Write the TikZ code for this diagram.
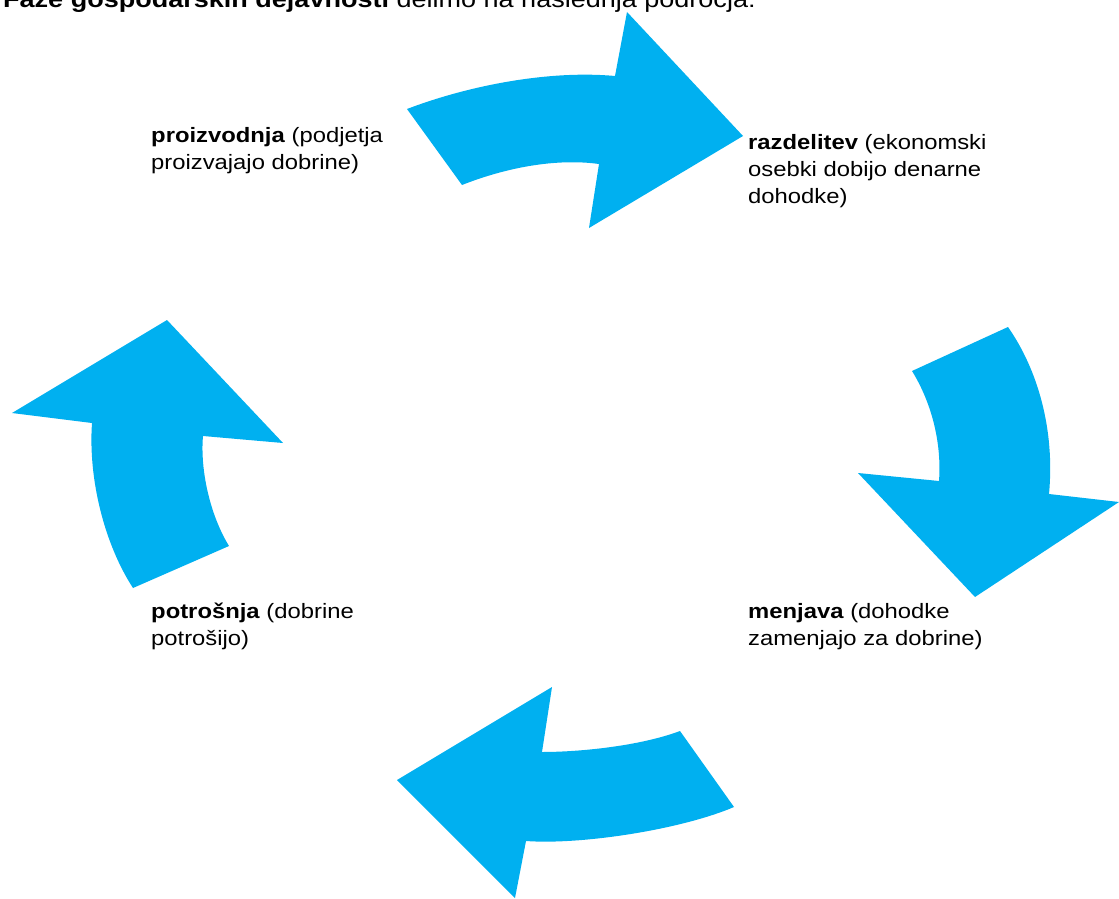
\documentclass[tikz,border=0pt]{standalone}
\usepackage{fontspec}
\setmainfont{Liberation Sans}[FakeStretch=1.145]
\definecolor{arrowblue}{RGB}{0,176,240}
\tikzset{
  arrowshape/.style={fill=arrowblue, draw=none},
  label/.style={anchor=base west, inner sep=0pt, align=left,
    font=\fontsize{20.8}{27}\selectfont},
  titlelabel/.style={anchor=base west, inner sep=0pt,
    font=\fontsize{23.6}{28}\selectfont}
}
\begin{document}
\begin{tikzpicture}[x=1pt,y=-1pt]
\useasboundingbox (0,0) rectangle (1119,899);
\fill[white] (0,0) rectangle (1119,899);

% title (cut at the top edge, as in the reference)
\node[titlelabel] (title) at (3,8) {\textbf{Faze gospodarskih dejavnosti} delimo na naslednja področja:};

% top arrow
\path[arrowshape] (407,109) .. controls (470,85) and (550,70) .. (615,76)
  -- (627,12) -- (743,136) -- (589,228) -- (599,164)
  .. controls (555,158) and (505,168) .. (462,185) -- cycle;

% right arrow
\path[arrowshape] (1008,327) -- (912,371) .. controls (930,400) and (942,440) .. (939,481)
  -- (858,473) -- (975,597) -- (1119,502) -- (1049,494)
  .. controls (1055,430) and (1038,370) .. (1008,327) -- cycle;

% bottom arrow
\path[arrowshape] (680,731) .. controls (640,746) and (580,752) .. (542,752)
  -- (552,687) -- (397,780) -- (515,898) -- (526,841)
  .. controls (580,845) and (680,830) .. (734,807) -- cycle;

% left arrow
\path[arrowshape] (133,588) -- (229,546) .. controls (210,515) and (200,470) .. (203,436)
  -- (283,443) -- (167,320) -- (12,413) -- (92,423)
  .. controls (88,480) and (105,545) .. (133,588) -- cycle;

% labels (anchor = baseline of the last line)
\node[label] (prod) at (151,169) {\textbf{proizvodnja} (podjetja\\proizvajajo dobrine)};
\node[label] (razd) at (748,203) {\textbf{razdelitev} (ekonomski\\osebki dobijo denarne\\dohodke)};
\node[label] (menj) at (748,645) {\textbf{menjava} (dohodke\\zamenjajo za dobrine)};
\node[label] (potr) at (151,645) {\textbf{potrošnja} (dobrine\\potrošijo)};
\end{tikzpicture}
\end{document}
